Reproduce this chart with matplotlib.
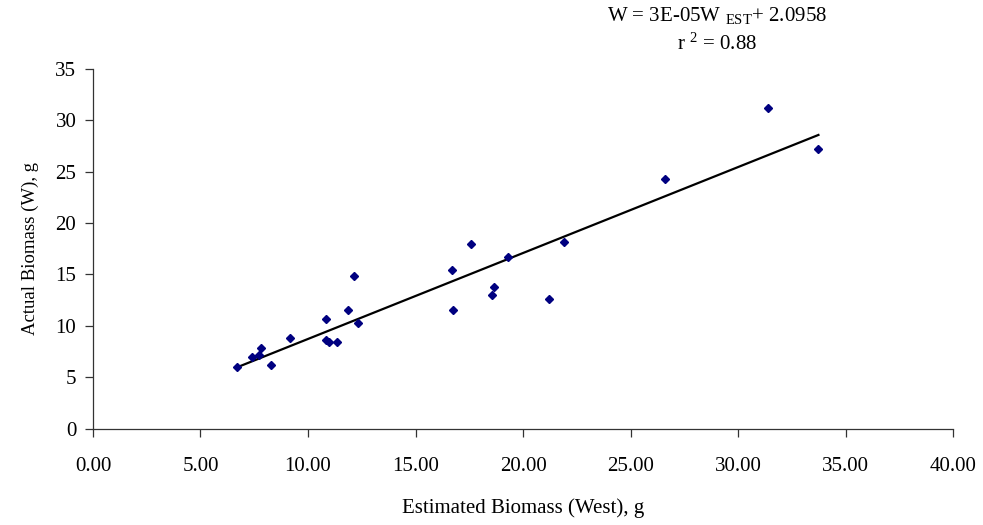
import numpy as np
import matplotlib
matplotlib.use("Agg")
import matplotlib.pyplot as plt

plt.rcParams['font.family'] = ['Liberation Serif', 'DejaVu Serif']
plt.rcParams['mathtext.fontset'] = 'custom'
plt.rcParams['mathtext.rm'] = 'Liberation Serif'
plt.rcParams['mathtext.it'] = 'Liberation Serif:italic'

# Data
est_biomass = [6.68, 7.40, 7.71, 7.80, 8.28, 9.18, 10.84, 10.84, 10.96, 11.33,
               11.85, 12.12, 12.33, 16.68, 16.76, 17.57, 18.54, 18.64, 19.32,
               21.21, 21.91, 26.6, 31.38, 33.74]
act_biomass = [5.99, 7.02, 7.21, 7.83, 6.21, 8.87, 10.71, 8.67, 8.42, 8.45,
               11.55, 14.85, 10.30, 15.47, 11.60, 17.96, 12.98, 13.82, 16.70,
               12.59, 18.16, 24.3, 31.13, 27.18]
x_ticks = [0, 5, 10, 15, 20, 25, 30, 35, 40]
y_ticks = [0, 5, 10, 15, 20, 25, 30, 35]

fig = plt.figure(figsize=(9.83, 5.25), dpi=100)
ax = fig.add_axes([0.0946, 0.1829, 0.8749, 0.6866])

x = np.array(est_biomass)
y = np.array(act_biomass)
b, a = np.polyfit(x, y, 1)
xl = np.array([x.min(), x.max()])
ax.plot(xl, a + b * xl, color='black', lw=1.6, zorder=2)
ax.plot(x, y, linestyle='none', marker='D', markersize=3.8,
        color='#000080', zorder=3)

ax.set_xlim(0, 40)
ax.set_ylim(0, 35)
ax.set_xticks(x_ticks)
ax.set_xticklabels([f"{v:.2f}" for v in x_ticks])
ax.set_yticks(y_ticks)
ax.set_yticklabels([str(v) for v in y_ticks])
for s in ['top', 'right']:
    ax.spines[s].set_visible(False)
for s in ['left', 'bottom']:
    ax.spines[s].set_color('#333333')
    ax.spines[s].set_linewidth(0.9)
ax.tick_params(axis='both', labelsize=15, length=6, width=0.9,
               color='#333333', direction='out')
ax.tick_params(axis='x', pad=14)
ax.tick_params(axis='y', pad=6)

ax.set_xlabel('Estimated Biomass (West), g', fontsize=15, labelpad=16)
ax.set_ylabel('Actual Biomass (W), g', fontsize=13.5, labelpad=12)

fig.text(717/983, 1 - 15/525, 'W = 3E-05W $_{\\mathrm{EST}}$+ 2.0958',
         ha='center', va='center', fontsize=15)
fig.text(717/983, 1 - 44/525, 'r $^{2}$ = 0.88',
         ha='center', va='center', fontsize=15)

fig.savefig('out.png', dpi=100)
